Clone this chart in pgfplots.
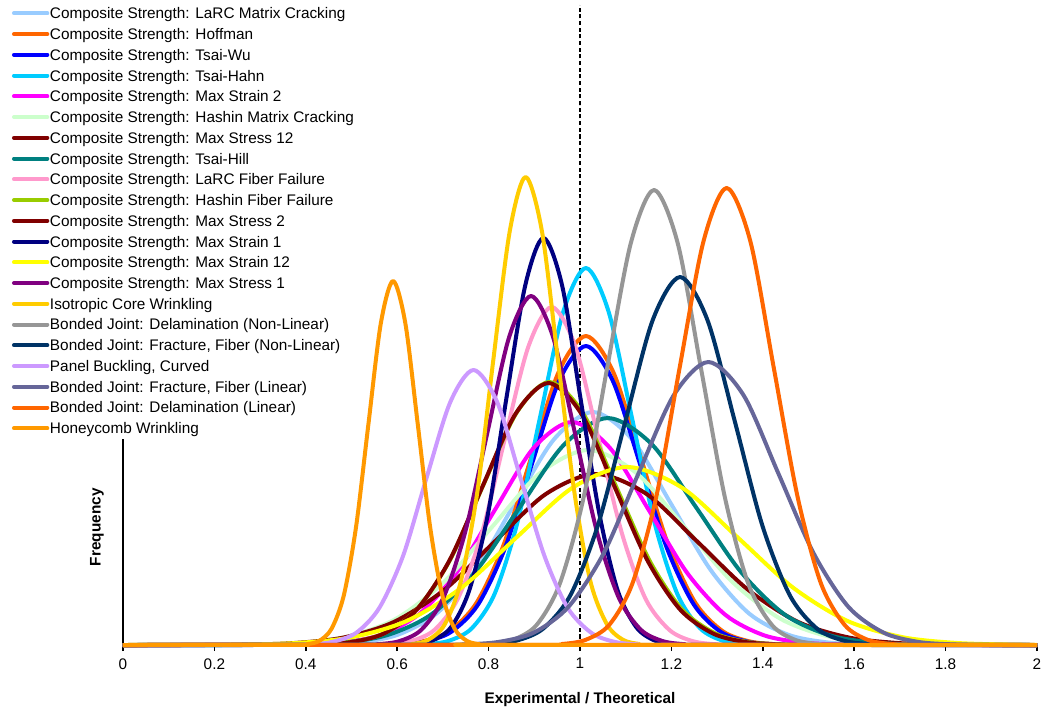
\documentclass[border=0pt]{standalone}
\usepackage{pgfplots}
\pgfplotsset{compat=1.18}
\usepackage{fontspec}
\setmainfont{Liberation Sans}

\definecolor{cLaRCMC}{HTML}{99CCFF}
\definecolor{cHoffman}{HTML}{FF6600}
\definecolor{cTsaiWu}{HTML}{0000FF}
\definecolor{cTsaiHahn}{HTML}{00CCFF}
\definecolor{cMaxStrainTwo}{HTML}{FF00FF}
\definecolor{cHashinMC}{HTML}{CCFFCC}
\definecolor{cMaxStressTwelve}{HTML}{800000}
\definecolor{cTsaiHill}{HTML}{008080}
\definecolor{cLaRCFF}{HTML}{FF99CC}
\definecolor{cHashinFF}{HTML}{99CC00}
\definecolor{cMaxStressTwo}{HTML}{800000}
\definecolor{cMaxStrainOne}{HTML}{000080}
\definecolor{cMaxStrainTwelve}{HTML}{FFFF00}
\definecolor{cMaxStressOne}{HTML}{800080}
\definecolor{cIsoCore}{HTML}{FFCC00}
\definecolor{cBJDelamNL}{HTML}{969696}
\definecolor{cBJFracNL}{HTML}{003366}
\definecolor{cPanelBuck}{HTML}{CC99FF}
\definecolor{cBJFracL}{HTML}{666699}
\definecolor{cBJDelamL}{HTML}{FF6600}
\definecolor{cHoneycomb}{HTML}{FF9900}

\begin{document}
\begin{tikzpicture}
\begin{axis}[
  scale only axis, width=685.5pt, height=480pt,
  xmin=0, xmax=2, ymin=0, ymax=640,
  axis lines*=left,
  axis line style={black, line width=1.3pt},
  xtick={0,0.2,0.4,0.6,0.8,1,1.2,1.4,1.6,1.8,2},
  xticklabels={0,0.2,0.4,0.6,0.8,1,1.2,1.4,1.6,1.8,2},
  ytick=\empty,
  xtick pos=left, tick align=outside,
  major tick length=4.5pt,
  x tick style={black, line width=1.2pt},
  xticklabel style={font=\fontsize{11.5}{13}\selectfont, yshift=-2pt},
  clip=false,
  every axis plot/.append style={line width=3pt, smooth, line join=round},
  legend cell align=left,
  legend style={at={(-0.12144,1.0032)}, anchor=north west, draw=none, fill=white,
    inner sep=0pt, outer sep=0pt, row sep=0pt, column sep=0.5pt,
    font=\fontsize{11.5}{13}\selectfont,
    nodes={inner sep=0pt, text height=11.88pt, text depth=3.68pt}},
  legend image code/.code={\draw[#1, line cap=round] (0pt,0pt) -- (25pt,0pt);},
]

% reference line at a ratio of one
\addplot[black, line width=0.9pt, dash pattern=on 3pt off 2pt, forget plot] coordinates {(1,0) (1,640)};

\addplot[cLaRCMC] coordinates {(0,0) (0.344,0.1) (0.430,0.5) (0.515,2.6) (0.601,10.2) (0.686,31.5) (0.772,75.6) (0.857,141.3) (0.943,205.6) (1.028,233) (1.114,205.6) (1.199,141.3) (1.285,75.6) (1.370,31.5) (1.456,10.2) (1.541,2.6) (1.627,0.5) (1.712,0.1) (2,0)};
\addlegendentry{Composite Strength: LaRC Matrix Cracking}

\addplot[cHoffman] coordinates {(0,0) (0.533,0.1) (0.593,0.7) (0.653,3.4) (0.713,13.6) (0.773,41.8) (0.833,100.3) (0.893,187.4) (0.953,272.7) (1.013,309) (1.073,272.7) (1.133,187.4) (1.193,100.3) (1.253,41.8) (1.313,13.6) (1.373,3.4) (1.433,0.7) (1.493,0.1) (2,0)};
\addlegendentry{Composite Strength: Hoffman}

\addplot[cTsaiWu] coordinates {(0,0) (0.541,0.1) (0.600,0.7) (0.659,3.3) (0.718,13.1) (0.777,40.5) (0.836,97.1) (0.895,181.4) (0.954,263.9) (1.013,299) (1.072,263.9) (1.131,181.4) (1.190,97.1) (1.249,40.5) (1.308,13.1) (1.367,3.3) (1.426,0.7) (1.485,0.1) (2,0)};
\addlegendentry{Composite Strength: Tsai-Wu}

\addplot[cTsaiHahn] coordinates {(0,0) (0.613,0.1) (0.663,0.8) (0.713,4.2) (0.763,16.6) (0.813,51.0) (0.863,122.4) (0.913,228.7) (0.963,332.7) (1.013,377) (1.063,332.7) (1.113,228.7) (1.163,122.4) (1.213,51.0) (1.263,16.6) (1.313,4.2) (1.363,0.8) (1.413,0.1) (2,0)};
\addlegendentry{Composite Strength: Tsai-Hahn}

\addplot[cMaxStrainTwo] coordinates {(0,0) (0.310,0.1) (0.394,0.5) (0.478,2.5) (0.562,9.8) (0.646,30.2) (0.730,72.4) (0.814,135.3) (0.898,196.8) (0.982,223) (1.066,196.8) (1.150,135.3) (1.234,72.4) (1.318,30.2) (1.402,9.8) (1.486,2.5) (1.570,0.5) (1.654,0.1) (2,0)};
\addlegendentry{Composite Strength: Max Strain 2}

\addplot[cHashinMC] coordinates {(0,0) (0.178,0.1) (0.283,0.4) (0.388,2.2) (0.493,8.6) (0.598,26.4) (0.703,63.3) (0.808,118.3) (0.913,172.1) (1.018,195) (1.123,172.1) (1.228,118.3) (1.333,63.3) (1.438,26.4) (1.543,8.6) (1.648,2.2) (1.753,0.4) (1.858,0.1) (2,0)};
\addlegendentry{Composite Strength: Hashin Matrix Cracking}

\addplot[cMaxStressTwelve] coordinates {(0,0) (0.151,0.1) (0.262,0.4) (0.372,1.9) (0.483,7.5) (0.593,23.1) (0.704,55.5) (0.814,103.7) (0.925,150.9) (1.035,171) (1.146,150.9) (1.256,103.7) (1.367,55.5) (1.477,23.1) (1.588,7.5) (1.698,1.9) (1.809,0.4) (1.919,0.1) (2,0)};
\addlegendentry{Composite Strength: Max Stress 12}

\addplot[cTsaiHill] coordinates {(0,0) (0.289,0.1) (0.386,0.5) (0.482,2.5) (0.579,10.0) (0.675,30.7) (0.772,73.7) (0.868,137.7) (0.965,200.3) (1.061,227) (1.158,200.3) (1.254,137.7) (1.351,73.7) (1.447,30.7) (1.544,10.0) (1.640,2.5) (1.737,0.5) (1.833,0.1) (2,0)};
\addlegendentry{Composite Strength: Tsai-Hill}

\addplot[cLaRCFF] coordinates {(0,0) (0.526,0.1) (0.578,0.7) (0.629,3.8) (0.681,14.9) (0.732,45.7) (0.784,109.7) (0.835,205.0) (0.887,298.3) (0.938,338) (0.990,298.3) (1.041,205.0) (1.093,109.7) (1.144,45.7) (1.196,14.9) (1.247,3.8) (1.299,0.7) (1.350,0.1) (2,0)};
\addlegendentry{Composite Strength: LaRC Fiber Failure}

\addplot[cHashinFF] coordinates {(0,0) (0.353,0.1) (0.426,0.6) (0.498,2.9) (0.571,11.6) (0.643,35.6) (0.716,85.4) (0.788,159.5) (0.861,232.1) (0.933,263) (1.006,232.1) (1.078,159.5) (1.151,85.4) (1.223,35.6) (1.296,11.6) (1.368,2.9) (1.441,0.6) (1.513,0.1) (2,0)};
\addlegendentry{Composite Strength: Hashin Fiber Failure}

\addplot[cMaxStressTwo] coordinates {(0,0) (0.355,0.1) (0.427,0.6) (0.499,2.9) (0.571,11.5) (0.643,35.5) (0.715,85.1) (0.787,158.9) (0.859,231.2) (0.931,262) (1.003,231.2) (1.075,158.9) (1.147,85.1) (1.219,35.5) (1.291,11.5) (1.363,2.9) (1.435,0.6) (1.507,0.1) (2,0)};
\addlegendentry{Composite Strength: Max Stress 2}

\addplot[cMaxStrainOne] coordinates {(0,0) (0.596,0.1) (0.637,0.9) (0.677,4.5) (0.718,17.9) (0.758,55.1) (0.799,132.1) (0.839,246.9) (0.880,359.2) (0.920,407) (0.961,359.2) (1.001,246.9) (1.042,132.1) (1.082,55.1) (1.123,17.9) (1.163,4.5) (1.204,0.9) (1.244,0.1) (2,0)};
\addlegendentry{Composite Strength: Max Strain 1}

\addplot[cMaxStrainTwelve] coordinates {(0,0) (0.139,0.1) (0.260,0.4) (0.380,2.0) (0.501,7.8) (0.621,24.1) (0.742,57.8) (0.862,108.0) (0.983,157.1) (1.103,178) (1.224,157.1) (1.344,108.0) (1.465,57.8) (1.585,24.1) (1.706,7.8) (1.826,2.0) (1.947,0.4) (2,0.2)};
\addlegendentry{Composite Strength: Max Strain 12}

\addplot[cMaxStressOne] coordinates {(0,0) (0.509,0.1) (0.557,0.8) (0.605,3.9) (0.653,15.3) (0.701,47.2) (0.749,113.3) (0.797,211.7) (0.845,308.0) (0.893,349) (0.941,308.0) (0.989,211.7) (1.037,113.3) (1.085,47.2) (1.133,15.3) (1.181,3.9) (1.229,0.8) (1.277,0.1) (2,0)};
\addlegendentry{Composite Strength: Max Stress 1}

\addplot[cIsoCore] coordinates {(0,0) (0.597,0.2) (0.633,1.0) (0.668,5.2) (0.704,20.6) (0.739,63.3) (0.775,151.9) (0.810,283.9) (0.846,413.0) (0.881,468) (0.917,413.0) (0.952,283.9) (0.988,151.9) (1.023,63.3) (1.059,20.6) (1.094,5.2) (1.130,1.0) (1.165,0.2) (2,0)};
\addlegendentry{Isotropic Core Wrinkling}

\addplot[cBJDelamNL] coordinates {(0,0) (0.750,0.2) (0.802,1.0) (0.853,5.1) (0.905,20.0) (0.956,61.6) (1.008,147.7) (1.059,276.0) (1.111,401.5) (1.162,455) (1.214,401.5) (1.265,276.0) (1.317,147.7) (1.368,61.6) (1.420,20.0) (1.471,5.1) (1.523,1.0) (1.574,0.2) (2,0)};
\addlegendentry{Bonded Joint: Delamination (Non-Linear)}

\addplot[cBJFracNL] coordinates {(0,0) (0.739,0.1) (0.799,0.8) (0.859,4.1) (0.919,16.2) (0.979,49.8) (1.039,119.5) (1.099,223.2) (1.159,324.8) (1.219,368) (1.279,324.8) (1.339,223.2) (1.399,119.5) (1.459,49.8) (1.519,16.2) (1.579,4.1) (1.639,0.8) (1.699,0.1) (2,0)};
\addlegendentry{Bonded Joint: Fracture, Fiber (Non-Linear)}

\addplot[cPanelBuck] coordinates {(0,0) (0.355,0.1) (0.407,0.6) (0.458,3.1) (0.510,12.1) (0.561,37.2) (0.613,89.3) (0.664,166.8) (0.716,242.7) (0.767,275) (0.819,242.7) (0.870,166.8) (0.922,89.3) (0.973,37.2) (1.025,12.1) (1.076,3.1) (1.128,0.6) (1.179,0.1) (2,0)};
\addlegendentry{Panel Buckling, Curved}

\addplot[cBJFracL] coordinates {(0,0) (0.669,0.1) (0.746,0.6) (0.822,3.1) (0.899,12.4) (0.975,38.3) (1.052,91.9) (1.128,171.6) (1.205,249.7) (1.281,283) (1.358,249.7) (1.434,171.6) (1.511,91.9) (1.587,38.3) (1.664,12.4) (1.740,3.1) (1.817,0.6) (1.893,0.1) (2,0)};
\addlegendentry{Bonded Joint: Fracture, Fiber (Linear)}

\addplot[cBJDelamL] coordinates {(0,0) (0.909,0.2) (0.961,1.0) (1.012,5.1) (1.064,20.1) (1.115,61.9) (1.167,148.4) (1.218,277.2) (1.270,403.3) (1.321,457) (1.373,403.3) (1.424,277.2) (1.476,148.4) (1.527,61.9) (1.579,20.1) (1.630,5.1) (1.682,1.0) (1.733,0.2) (2,0)};
\addlegendentry{Bonded Joint: Delamination (Linear)}

\addplot[cHoneycomb] coordinates {(0,0) (0.375,0.1) (0.402,0.8) (0.429,4.0) (0.456,16.0) (0.483,49.3) (0.510,118.2) (0.537,220.8) (0.564,321.2) (0.591,364) (0.618,321.2) (0.645,220.8) (0.672,118.2) (0.699,49.3) (0.726,16.0) (0.753,4.0) (0.780,0.8) (0.807,0.1) (2,0)};
\addlegendentry{Honeycomb Wrinkling}

\node[rotate=90, font=\bfseries\fontsize{11.5}{13}\selectfont] at (rel axis cs:-0.02845,0.184) {Frequency};
\node[font=\bfseries\fontsize{11.5}{13}\selectfont] at (rel axis cs:0.5,-0.0845) {Experimental / Theoretical};

\coordinate (bl) at (rel axis cs:0,0);
\coordinate (tr) at (rel axis cs:1,1);
\end{axis}
\pgfresetboundingbox
\path[use as bounding box] ([xshift=-92.25pt,yshift=-49.5pt]bl) rectangle ([xshift=6pt,yshift=3.75pt]tr);
\end{tikzpicture}
\end{document}
